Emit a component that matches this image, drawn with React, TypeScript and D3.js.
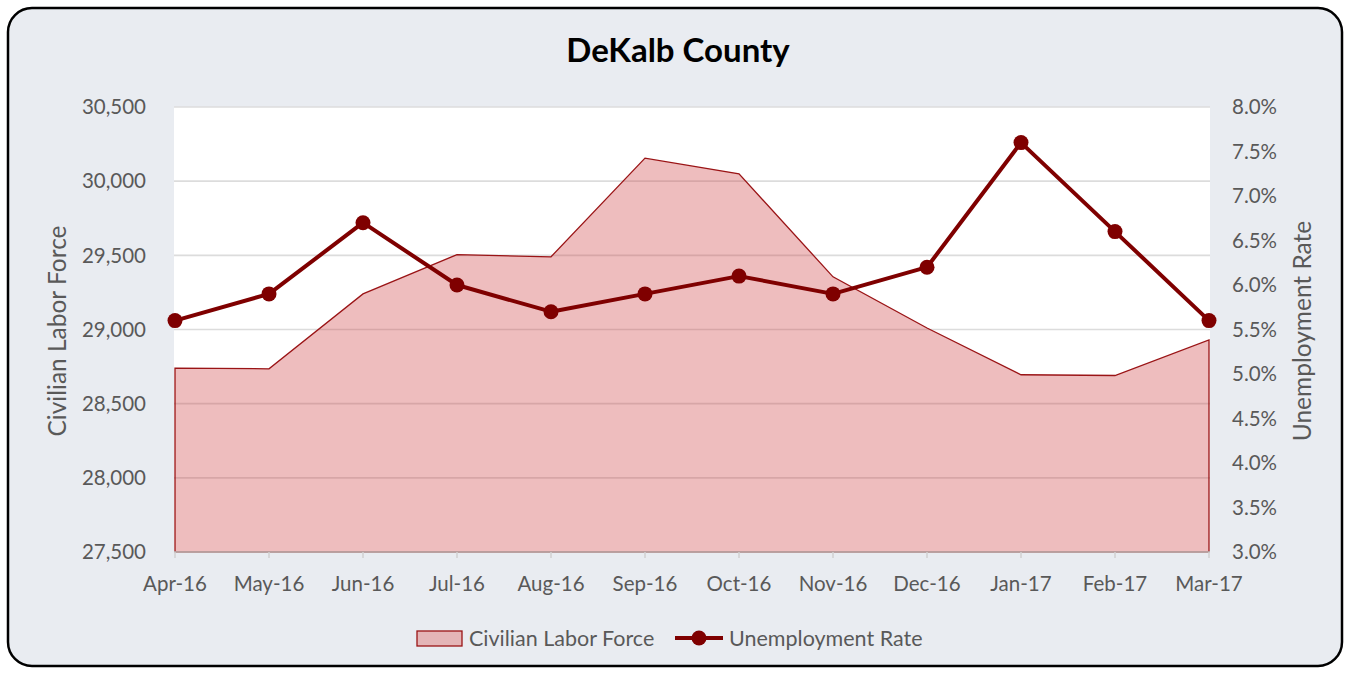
import React from "react";
import * as d3 from "d3";

const months = ["Apr-16", "May-16", "Jun-16", "Jul-16", "Aug-16", "Sep-16", "Oct-16", "Nov-16", "Dec-16", "Jan-17", "Feb-17", "Mar-17"];
const laborForce = [28740, 28735, 29240, 29505, 29490, 30155, 30050, 29355, 29010, 28695, 28690, 28930];
const unemploymentRate = [5.6, 5.9, 6.7, 6.0, 5.7, 5.9, 6.1, 5.9, 6.2, 7.6, 6.6, 5.6];
const leftTicks = [27500, 28000, 28500, 29000, 29500, 30000, 30500];
const rightTicks = [3.0, 3.5, 4.0, 4.5, 5.0, 5.5, 6.0, 6.5, 7.0, 7.5, 8.0];

const W = 1351;
const H = 675;
const plot = { left: 174, right: 1210, top: 107, bottom: 552 };
const FONT = "Lato, 'Noto Sans', sans-serif";
const TEXT = "#595959";
const LINE = "#7F0000";

export default function App() {
  const x = d3.scalePoint<string>().domain(months).range([175, 1209]);
  const yL = d3.scaleLinear().domain([27500, 30500]).range([plot.bottom, plot.top]);
  const yR = d3.scaleLinear().domain([3, 8]).range([plot.bottom, plot.top]);

  const area = d3
    .area<number>()
    .x((_, i) => x(months[i])!)
    .y0(plot.bottom)
    .y1((d) => yL(d));
  const line = d3
    .line<number>()
    .x((_, i) => x(months[i])!)
    .y((d) => yR(d));

  const fmtL = d3.format(",");
  const fmtR = (v: number) => v.toFixed(1) + "%";

  return (
    <svg width={W} height={H} style={{ position: "absolute", left: 0, top: 0 }} fontFamily={FONT}>
      <rect x={8} y={8} width={1334} height={658} rx={24} ry={24} fill="#E9ECF1" stroke="#000" strokeWidth={2.5} />
      <text x={678} y={62} textAnchor="middle" fontSize={33} fontWeight={700} fill="#000">
        DeKalb County
      </text>

      <rect x={plot.left} y={plot.top} width={plot.right - plot.left} height={plot.bottom - plot.top} fill="#fff" />
      {leftTicks.map((t) => (
        <line key={t} x1={plot.left} x2={plot.right} y1={yL(t)} y2={yL(t)} stroke="#DCDCDC" strokeWidth={1.6} />
      ))}

      <path d={area(laborForce)!} fill="#D0484A" fillOpacity={0.36} stroke="none" />
      <path d={area(laborForce)!} fill="none" stroke="#9A1416" strokeWidth={1.3} />

      <line x1={plot.left} x2={plot.right} y1={plot.bottom} y2={plot.bottom} stroke="#BFBFBF" strokeWidth={1.5} />
      {months.map((m) => (
        <line key={m} x1={x(m)!} x2={x(m)!} y1={plot.bottom} y2={plot.bottom + 6} stroke="#D0D0D0" strokeWidth={1.5} />
      ))}

      <path d={line(unemploymentRate)!} fill="none" stroke={LINE} strokeWidth={4} strokeLinejoin="round" />
      {unemploymentRate.map((v, i) => (
        <circle key={i} cx={x(months[i])!} cy={yR(v)} r={7.5} fill={LINE} />
      ))}

      {leftTicks.map((t) => (
        <text key={t} x={146} y={yL(t)} dy="0.35em" textAnchor="end" fontSize={20.5} fill={TEXT}>
          {fmtL(t)}
        </text>
      ))}
      {rightTicks.map((t) => (
        <text key={t} x={1232} y={yR(t)} dy="0.35em" textAnchor="start" fontSize={20.5} fill={TEXT}>
          {fmtR(t)}
        </text>
      ))}
      {months.map((m) => (
        <text key={m} x={x(m)!} y={584} dy="0.35em" textAnchor="middle" fontSize={20.5} fill={TEXT}>
          {m}
        </text>
      ))}

      <text transform="translate(57,331) rotate(-90)" textAnchor="middle" dy="0.35em" fontSize={24.5} fill={TEXT}>
        Civilian Labor Force
      </text>
      <text transform="translate(1302,331) rotate(-90)" textAnchor="middle" dy="0.35em" fontSize={24.5} fill={TEXT}>
        Unemployment Rate
      </text>

      <rect x={417} y={631} width={45} height={15} fill="#E4B5B7" stroke="#9A1416" strokeWidth={1.3} />
      <text x={469} y={638.5} dy="0.35em" fontSize={21.5} fill={TEXT}>
        Civilian Labor Force
      </text>
      <line x1={675} x2={723} y1={638} y2={638} stroke={LINE} strokeWidth={4} />
      <circle cx={699} cy={638} r={7.5} fill={LINE} />
      <text x={729} y={638.5} dy="0.35em" fontSize={21.5} fill={TEXT}>
        Unemployment Rate
      </text>
    </svg>
  );
}
